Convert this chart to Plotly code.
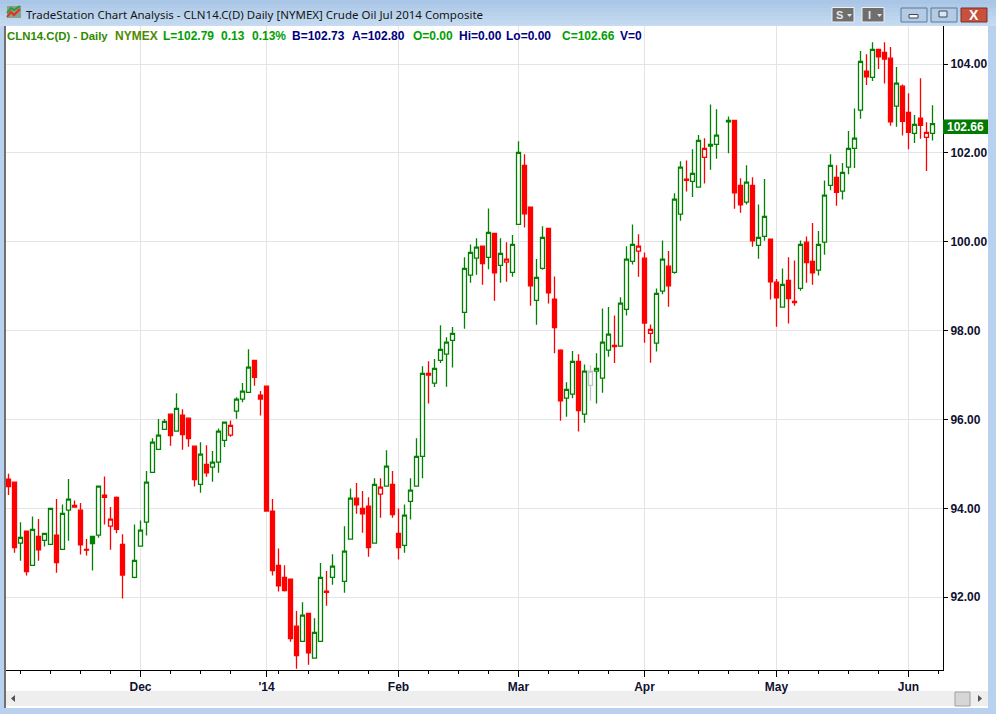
import plotly.graph_objects as go

bars = list(range(155))
opens = [94.66,94.59,93.22,93.49,92.72,93.37,93.28,93.19,93.40,93.08,93.96,94.03,93.96,93.08,93.37,93.40,94.25,93.60,94.25,93.19,None,
92.45,93.15,93.69,94.81,95.33,95.78,96.12,95.74,96.10,96.03,95.40,94.54,94.99,94.93,95.04,95.53,95.65,96.19,96.46,96.61,97.33,96.55,
96.75,93.94,92.72,92.45,92.41,91.35,91.01,91.64,90.63,91.01,92.14,92.45,None,92.36,93.31,94.23,94.00,94.05,93.22,94.32,94.50,94.54,
93.44,93.17,94.16,94.50,95.17,97.04,96.82,97.33,97.47,97.78,None,98.41,99.25,99.63,99.90,99.65,100.19,99.47,99.54,99.31,100.39,101.72,
100.78,98.68,99.40,100.30,98.71,97.56,96.48,96.57,97.31,96.12,96.77,97.09,96.93,97.56,97.67,97.65,98.48,99.56,99.79,99.63,97.94,97.72,
98.89,99.45,99.31,100.62,101.41,101.36,101.23,101.90,102.15,102.19,None,102.73,102.73,101.27,100.89,101.27,99.92,100.12,100.06,99.09,
98.53,99.13,98.66,98.95,99.99,99.56,99.36,99.99,101.27,101.45,101.14,101.68,102.10,102.96,103.84,103.70,104.33,104.26,104.13,103.05,
103.50,102.91,102.44,102.78,102.35,102.44]
highs = [94.78,94.59,93.69,93.49,93.82,93.76,93.44,94.00,94.21,94.09,94.66,94.18,94.12,93.31,93.37,94.50,94.72,94.03,94.27,93.42,None,
93.64,93.73,94.84,95.58,96.01,96.01,96.12,96.59,96.23,96.03,95.40,95.49,95.42,95.29,95.80,95.94,95.98,96.50,96.82,97.58,97.33,96.64,
96.75,94.21,93.10,92.72,92.41,91.69,91.89,91.64,91.53,92.77,92.59,92.97,None,93.60,94.45,94.57,94.39,94.25,94.68,94.68,95.31,94.84,
94.00,94.09,94.68,95.58,97.20,97.31,97.36,98.12,97.85,98.08,None,99.65,99.94,100.08,99.90,100.75,100.19,100.08,99.99,100.15,102.26,101.97,
100.78,99.61,100.35,100.30,99.22,97.58,96.84,97.54,97.47,97.24,97.22,97.49,98.50,98.53,98.34,98.75,99.90,100.39,100.17,99.76,98.14,98.95,
100.03,99.79,101.09,101.81,101.83,102.08,102.40,102.33,103.09,102.98,None,102.82,102.73,101.43,101.72,101.45,100.84,101.41,100.06,99.16,
99.40,99.65,99.58,100.03,100.12,100.42,100.24,101.38,101.97,101.72,101.77,102.49,103.00,104.29,104.22,104.49,104.33,104.49,104.38,103.93,
103.54,103.34,102.85,103.68,102.69,103.07]
lows = [94.30,93.00,92.82,92.49,92.72,92.82,93.14,93.19,92.55,93.08,93.27,94.03,92.96,92.94,92.60,93.34,93.64,93.07,93.44,91.97,None,
92.43,93.15,93.39,94.81,95.33,95.78,95.41,95.74,95.32,95.39,94.49,94.35,94.71,94.60,94.80,95.38,95.61,96.02,96.39,96.61,96.76,96.09,
93.93,92.49,92.13,92.13,91.00,90.39,91.01,90.48,90.63,91.01,91.81,92.28,None,92.10,93.31,93.88,93.45,92.91,93.22,93.79,94.50,93.79,
92.85,93.00,93.75,94.50,94.68,96.36,96.73,97.27,96.74,97.17,None,98.04,99.08,99.26,99.03,99.38,98.67,99.08,99.10,99.21,100.39,100.32,
98.56,98.13,99.37,98.61,97.49,95.97,96.06,96.48,95.73,95.93,96.42,96.36,96.60,97.41,97.27,97.65,98.34,99.49,99.21,97.73,97.28,97.53,
98.82,98.54,99.28,100.47,101.13,101.01,101.23,101.31,101.62,101.87,None,101.99,100.74,100.65,100.84,99.89,99.62,100.02,98.70,98.09,
98.53,98.16,98.56,98.90,99.08,99.03,99.24,99.71,101.16,100.81,100.95,101.52,101.66,102.77,103.53,103.62,103.89,103.56,102.61,102.59,
102.39,102.08,102.22,102.32,101.59,102.28]
closes = [94.49,93.12,93.35,92.58,93.53,93.07,93.44,94.00,92.78,93.89,94.21,94.07,93.18,93.06,93.21,94.50,94.30,93.76,93.53,92.50,None,
92.83,93.51,94.59,95.49,95.65,95.96,95.64,96.25,95.66,95.57,94.65,95.22,94.80,95.04,95.74,95.94,95.87,96.46,96.64,97.18,96.95,96.46,
93.94,92.60,92.26,92.15,91.07,90.69,91.60,90.75,91.21,92.45,92.11,92.70,None,93.04,94.23,94.08,93.88,93.12,94.54,94.48,94.95,93.86,
93.12,93.85,94.41,95.17,97.04,97.00,97.15,97.58,97.74,97.94,None,99.40,99.76,99.88,99.51,100.21,99.30,99.74,99.61,99.94,102.01,100.63,
99.01,99.20,100.10,98.85,98.07,96.42,96.68,97.31,96.20,97.09,97.09,97.15,97.74,97.92,97.64,98.62,99.61,99.94,99.90,98.17,98.03,98.84,
99.61,99.01,100.96,101.68,101.38,101.54,102.28,102.10,102.19,102.40,None,102.70,101.10,100.83,101.34,100.02,100.10,100.57,99.10,98.74,
99.04,98.72,98.63,99.94,99.53,99.30,99.94,101.05,101.72,101.11,101.56,102.10,102.33,104.06,103.71,104.33,104.16,104.11,102.70,103.57,
102.71,102.46,102.64,102.62,102.46,102.66]
down_hollow = {11,16,17,37,62,83,105,107,116,153}
up_filled = {14,120}
grey_bars = {97}

month_ticks = [22,43,65,85,106,128,150]
month_labels = ["Dec","'14","Feb","Mar","Apr","May","Jun"]
week_ticks = [2,7,12,17,27,32,37,45,50,55,60,70,75,80,90,95,100,110,115,120,125,130,135,140,145,155]
price_ticks = [92,94,96,98,100,102,104]

GREEN = "#008200"
RED = "#ff0000"
GREY = "#c4c4c4"

def colour_of(i):
    if i in grey_bars:
        return "N"
    if i in down_hollow:
        return "R"
    if i in up_filled:
        return "G"
    return "G" if closes[i] > opens[i] else "R"

fig = go.Figure()
for key, col in (("G", GREEN), ("R", RED), ("N", GREY)):
    idx = [i for i in bars if opens[i] is not None and colour_of(i) == key]
    fig.add_trace(go.Candlestick(
        x=idx,
        open=[opens[i] for i in idx],
        high=[highs[i] for i in idx],
        low=[lows[i] for i in idx],
        close=[closes[i] for i in idx],
        increasing=dict(line=dict(color=col, width=1.3), fillcolor="#ffffff"),
        decreasing=dict(line=dict(color=col, width=1.3), fillcolor=col),
        whiskerwidth=0,
        showlegend=False,
        hoverinfo="skip",
    ))

W, H = 996, 714
def px(x): return x / W
def py(y): return 1 - y / H

shapes = []
def rect(x0, y0, x1, y1, fill, line=None, layer="below", lw=1):
    shapes.append(dict(type="rect", xref="paper", yref="paper",
                       x0=px(x0), x1=px(x1), y0=py(y0), y1=py(y1),
                       fillcolor=fill, line=dict(color=line or fill, width=lw if line else 0),
                       layer=layer))
def poly(points, line=None, fill=None, lw=1, close=False):
    d = "M " + " L ".join(f"{px(a)},{py(b)}" for a, b in points) + (" Z" if close else "")
    s = dict(type="path", xref="paper", yref="paper", layer="above", path=d,
             line=dict(color=line, width=lw) if line else dict(width=0))
    if fill:
        s["fillcolor"] = fill
    shapes.append(s)

# window chrome
bands = ["#a9c6e6", "#aecae8", "#b4ceea", "#b9d2ec", "#bdd5ee", "#c2d8ef", "#c6dbf1"]
for k, c in enumerate(bands):
    rect(0, k * 4, W, (k + 1) * 4 if k < 6 else 26, c)
rect(0, 26, 5, 708, "#b9d1ee")
rect(988, 26, W, 708, "#b9d1ee")
rect(0, 708, W, H, "#b9d1ee")
rect(4, 26, 6, 708, "#707070")
rect(6, 26, 988, 691, "#ffffff")
rect(6, 691, 988, 706, "#eeeeee")
rect(6, 706, 988, 708, "#ffffff")
rect(955, 692, 970, 706, "#d6d6d6", "#a0a0a0")
# price tag
rect(943, 119.5, 988, 134, "#007a00", layer="above")
# buttons
rect(832, 7.5, 854, 22, "#6e6e6e", "#f0f0f0")
rect(862, 7.5, 884, 22, "#6e6e6e", "#f0f0f0")
rect(901, 8, 927, 22, "#b4cbe6", "#5f7894")
rect(931, 8, 957, 22, "#b4cbe6", "#5f7894")
rect(961, 8, 987, 22, "#c8503f", "#7a2f28")
rect(909, 14.5, 918, 18, "#f5f5f5", "#3f4a58", layer="above")
rect(939, 11, 947, 17, "#dce6f2", "#3f4a58", layer="above")
poly([(847, 14), (852, 14), (849.5, 17)], fill="#e8e8e8", close=True)
poly([(877, 14), (882, 14), (879.5, 17)], fill="#e8e8e8", close=True)
# title icon
poly([(7, 6), (21, 6), (21, 18), (7, 18)], fill="#8aa08e", close=True)
poly([(7, 13), (11, 8), (14, 10), (20, 6)], line="#2f9a3a", lw=2)
poly([(7, 17), (11, 12), (14, 15), (20, 9)], line="#e03020", lw=2)
# scrollbar arrows
poly([(15, 695), (11, 698.5), (15, 702)], fill="#505050", close=True)
poly([(978, 695), (982, 698.5), (978, 702)], fill="#505050", close=True)

anns = []
def text(x, y, s, color, size=12, bold=True, anchor="left", family="Liberation Sans"):
    anns.append(dict(xref="paper", yref="paper", x=px(x), y=py(y), text=f"<b>{s}</b>" if bold else s,
                     showarrow=False, xanchor=anchor, yanchor="middle", borderpad=0, borderwidth=0,
                     font=dict(family=family, size=size, color=color)))

text(26, 14.5, "TradeStation Chart Analysis - CLN14.C(D) Daily [NYMEX] Crude Oil Jul 2014 Composite",
     "#151515", 11.5, False, family="Noto Sans")
NAVY = "#000080"
LIME = "#00a000"
text(7, 35.5, "CLN14.C(D) - Daily", "#2f8a00", 11.4)
for x, s, c in [(115, "NYMEX", "#4f8a00"),
                (162.5, "L=102.79", LIME), (221, "0.13", LIME), (252, "0.13%", LIME),
                (292, "B=102.73", NAVY), (351.5, "A=102.80", NAVY), (412.5, "O=0.00", LIME),
                (459, "Hi=0.00", NAVY), (506, "Lo=0.00", NAVY), (562, "C=102.66", LIME), (620, "V=0", NAVY)]:
    text(x, 35.5, s, c)
text(965.5, 127, "102.66", "#ffffff", 12, True, "center")
text(839, 15, "S", "#e8e8e8", 11, True, "center")
text(869, 15, "I", "#e8e8e8", 11, True, "center")
text(974, 15, "X", "#ffffff", 14, True, "center")

fig.update_layout(
    width=W, height=H, autosize=False,
    margin=dict(l=0, r=0, t=0, b=0, pad=0),
    paper_bgcolor="#b9d1ee", plot_bgcolor="#ffffff",
    boxgap=1/3, boxgroupgap=0, boxmode="overlay",
    showlegend=False,
    shapes=shapes, annotations=anns,
    xaxis=dict(
        domain=[px(6), px(943)],
        range=[(6 - 8.5) / 6, (943 - 8.5) / 6],
        rangeslider=dict(visible=False),
        tickmode="array", tickvals=month_ticks, ticktext=month_labels,
        ticks="outside", ticklen=6, tickwidth=1, tickcolor="#000000",
        showgrid=True, gridcolor="#e4e4e4", gridwidth=1,
        showline=True, linecolor="#000000", linewidth=1,
        zeroline=False,
        tickfont=dict(family="Liberation Sans", size=12, color="#101030", weight="bold"),
        minor=dict(tickmode="array", tickvals=week_ticks, ticks="outside", ticklen=3,
                   tickwidth=1, tickcolor="#000000", showgrid=False),
    ),
    yaxis=dict(
        domain=[py(670), py(26)],
        range=[104 - (670 - 64) / 44.44, 104 + (64 - 26) / 44.44],
        side="right",
        tickmode="array", tickvals=price_ticks, tickformat=".2f",
        ticks="outside", ticklen=4, tickwidth=1, tickcolor="#000000",
        showgrid=True, gridcolor="#e4e4e4", gridwidth=1,
        showline=True, linecolor="#000000", linewidth=1,
        zeroline=False,
        tickfont=dict(family="Liberation Sans", size=12, color="#101030", weight="bold"),
    ),
)

fig.write_html("out.html", config=dict(displayModeBar=False),
               post_script="document.body.style.margin='0';")
